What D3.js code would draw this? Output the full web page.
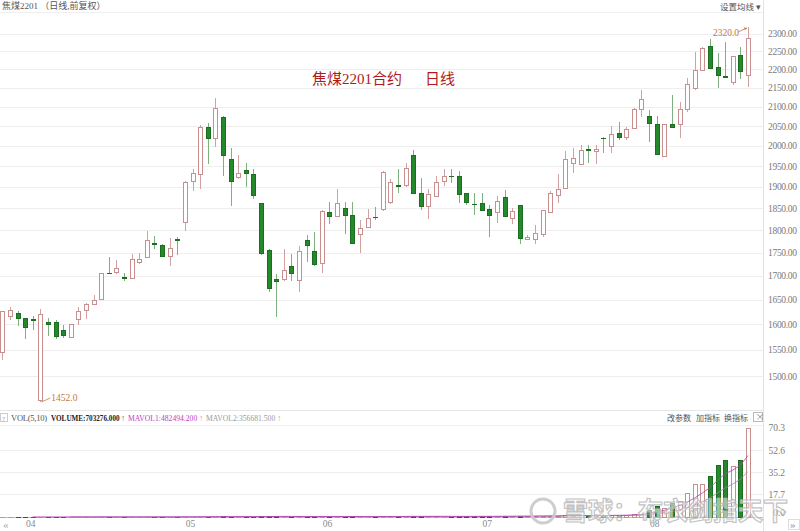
<!DOCTYPE html>
<html><head><meta charset="utf-8">
<script src="https://cdn.jsdelivr.net/npm/d3@7"></script>
<style>body{margin:0;background:#fff;overflow:hidden}svg{display:block}</style>
</head><body>
<svg id="c" width="800" height="531"></svg>
<script>
// ---------------- data ----------------
const dates = [
"2021-03-26","2021-03-29","2021-03-30","2021-03-31",
"2021-04-01","2021-04-02","2021-04-06","2021-04-07","2021-04-08","2021-04-09","2021-04-12","2021-04-13","2021-04-14","2021-04-15","2021-04-16","2021-04-19","2021-04-20","2021-04-21","2021-04-22","2021-04-23","2021-04-26","2021-04-27","2021-04-28","2021-04-29","2021-04-30",
"2021-05-06","2021-05-07","2021-05-10","2021-05-11","2021-05-12","2021-05-13","2021-05-14","2021-05-17","2021-05-18","2021-05-19","2021-05-20","2021-05-21","2021-05-24","2021-05-25","2021-05-26","2021-05-27","2021-05-28","2021-05-31",
"2021-06-01","2021-06-02","2021-06-03","2021-06-04","2021-06-07","2021-06-08","2021-06-09","2021-06-10","2021-06-11","2021-06-15","2021-06-16","2021-06-17","2021-06-18","2021-06-21","2021-06-22","2021-06-23","2021-06-24","2021-06-25","2021-06-28","2021-06-29","2021-06-30",
"2021-07-01","2021-07-02","2021-07-05","2021-07-06","2021-07-07","2021-07-08","2021-07-09","2021-07-12","2021-07-13","2021-07-14","2021-07-15","2021-07-16","2021-07-19","2021-07-20","2021-07-21","2021-07-22","2021-07-23","2021-07-26","2021-07-27","2021-07-28","2021-07-29","2021-07-30",
"2021-08-02","2021-08-03","2021-08-04","2021-08-05","2021-08-06","2021-08-09","2021-08-10","2021-08-11","2021-08-12","2021-08-13","2021-08-16","2021-08-17","2021-08-18"];
const opens = [1546,1616,1622,1612,1610,1456,1604,1604,1589,1575,1611,1629,1641,1651,1707,1709,1698,1695,1729,1740,1772,1766,1743,1779,1818,1915,1931,2048,2019,2073,1967,1924,1940,1930,1861,1756,1693,1693,1721,1691,1777,1754,1727,1840,1831,1851,1834,1791,1806,1830,1848,1865,1905,1904,1977,1885,1855,1878,1915,1927,1926,1885,1860,1863,1847,1840,1875,1827,1857,1780,1780,1791,1840,1881,1896,1958,1954,1991,1988,2020,2000,2031,2023,2044,2093,2076,2054,1975,2054,2054,2093,2149,2199,2266,2208,2181,2167,2240,2185];
const highs = [1627,1636,1626,1613,1616,1631,1613,1609,1599,1601,1636,1643,1659,1707,1741,1733,1705,1747,1749,1799,1787,1768,1783,1785,1913,1943,2053,2057,2122,2075,1994,1977,1957,1942,1863,1757,1704,1757,1747,1765,1789,1795,1845,1864,1894,1865,1865,1823,1848,1853,1937,1918,1942,1958,1990,1920,1894,1926,1942,1942,1938,1886,1886,1886,1857,1878,1893,1850,1858,1789,1812,1846,1889,1931,1988,1994,2002,2002,2002,2021,2050,2061,2048,2097,2143,2092,2077,2056,2131,2113,2176,2248,2262,2285,2245,2276,2238,2262,2320];
const lows = [1530,1609,1596,1571,1588,1452,1576,1571,1573,1574,1599,1611,1639,1649,1705,1704,1688,1694,1725,1739,1757,1741,1722,1745,1798,1889,1895,1955,1996,1926,1856,1918,1900,1871,1745,1667,1614,1690,1688,1667,1730,1721,1705,1813,1830,1791,1771,1749,1804,1823,1844,1860,1886,1899,1885,1846,1825,1877,1902,1908,1861,1857,1834,1845,1784,1817,1831,1813,1770,1778,1769,1785,1839,1861,1895,1932,1953,1958,1954,1981,1981,2015,2015,2042,2073,2010,1976,1972,2044,2019,2087,2144,2197,2204,2150,2178,2158,2173,2152];
const closes = [1626,1629,1612,1595,1608,1620,1601,1576,1579,1600,1627,1641,1649,1705,1706,1717,1696,1736,1736,1778,1770,1743,1760,1777,1912,1933,2047,2019,2097,1977,1914,1932,1932,1881,1750,1675,1688,1712,1707,1753,1767,1725,1844,1832,1861,1835,1772,1805,1827,1829,1936,1912,1903,1946,1886,1856,1882,1912,1926,1926,1882,1865,1859,1846,1834,1867,1832,1844,1782,1784,1793,1846,1885,1895,1966,1969,1990,1989,1991,2019,2030,2021,2042,2093,2120,2057,1979,2055,2047,2093,2160,2199,2261,2205,2185,2180,2238,2195,2287];
const volumes = [800,600,500,700,400,1500,900,700,600,800,1200,900,700,1800,900,600,700,1100,800,1500,900,1000,1200,900,
2500,1800,3500,2800,3200,4100,3600,2500,2000,2600,5200,6100,4800,3900,3000,4200,3100,3600,5000,
3200,3800,3500,4200,3900,3100,2800,5500,4600,3800,4500,6200,5400,4800,4100,3900,3500,5200,4600,4400,5100,
5600,5200,7100,5800,9200,6500,7400,9800,11000,9500,14500,10200,12500,9800,10100,13600,16500,15200,14100,22500,26000,55000,
90000,70000,110000,127344,186000,258000,259000,324000,412495,448000,401200,447500,703276];
const priceTicks = [1500,1550,1600,1650,1700,1750,1800,1850,1900,1950,2000,2050,2100,2150,2200,2250,2300];
const volTicks = [0,177000,352000,526000,703276];
const volTickLabels = ["0.0","17.7","35.2","52.6","70.3"];
const monthStarts = ["2021-04-01","2021-05-06","2021-06-01","2021-07-01","2021-08-02"];
const monthLabels = ["04","05","06","07","08"];
const chartTitle = "焦煤2201 （日线,前复权）";
const centerTitle = ["焦煤2201合约", "日线"];
const volHeader = [
  {label:"VOLUME:703276.000", x:51, w:74, color:"#222", arrow:"#555", bold:true},
  {label:"MAVOL1:482494.200", x:128, w:75, color:"#c040c0", arrow:"#e080c0", bold:false},
  {label:"MAVOL2:356681.500", x:206, w:75, color:"#999", arrow:"#aaa", bold:false}];

// ---------------- drawing ----------------
const svg = d3.select("#c");
const plotRight = 763;
const UP = "#c98f8f", UPW = "#d2a2a2", DN_FILL = "#24892a", DN_STROKE = "#1b6e20", DN_W = "#7fb07f";
const LABEL_FONT = "'Liberation Serif','DejaVu Serif',serif";
const CJK = "'Noto Sans CJK SC','Noto Sans',sans-serif";

const data = dates.map((d,i)=>({d, o:opens[i], h:highs[i], l:lows[i], c:closes[i], v:volumes[i]}));
const x = d3.scaleBand().domain(dates).range([-1.5, 751.8]).padding(0);
const cx = d => x(d) + x.bandwidth()/2;
const bw = 5;
const y = d3.scaleLog().domain([1500, 2300]).range([376, 33.9]);
const yv = d3.scaleLinear().domain([0, 703276]).range([517, 427.5]);

// frame lines
svg.append("line").attr("x1",plotRight+0.5).attr("x2",plotRight+0.5).attr("y1",0).attr("y2",531).attr("stroke","#e2e2e2");
svg.append("line").attr("x1",0).attr("x2",plotRight).attr("y1",12.5).attr("y2",12.5).attr("stroke","#f0f0f0");
svg.append("line").attr("x1",0).attr("x2",plotRight).attr("y1",410.5).attr("y2",410.5).attr("stroke","#e6e6e6");
svg.append("line").attr("x1",0).attr("x2",plotRight).attr("y1",425.5).attr("y2",425.5).attr("stroke","#f0f0f0");

// price gridlines + right axis
svg.append("g").selectAll("line").data(priceTicks).join("line")
  .attr("x1",0).attr("x2",plotRight).attr("y1",d=>Math.round(y(d))+0.5).attr("y2",d=>Math.round(y(d))+0.5)
  .attr("stroke","#eeeeee");
const yAxis = d3.axisRight(y).tickValues(priceTicks).tickFormat(d3.format(".2f")).tickSize(0).tickPadding(0);
svg.append("g").attr("transform",`translate(${plotRight+5},0)`).call(yAxis)
  .call(g=>g.select(".domain").remove())
  .call(g=>g.selectAll("text").attr("fill","#7a7a7a").attr("font-family",LABEL_FONT).attr("font-size",9.5)
     .attr("textLength",29).attr("lengthAdjust","spacing"));

// volume gridlines + axis
svg.append("g").selectAll("line").data(volTicks.slice(1,4)).join("line")
  .attr("x1",0).attr("x2",plotRight).attr("y1",d=>Math.round(yv(d))+0.5).attr("y2",d=>Math.round(yv(d))+0.5).attr("stroke","#eeeeee");
svg.append("line").attr("x1",0).attr("x2",plotRight).attr("y1",517.5).attr("y2",517.5).attr("stroke","#bdbdbd");
const vAxis = d3.axisLeft(yv).tickValues(volTicks).tickFormat((d,i)=>volTickLabels[i]).tickSize(0).tickPadding(0);
svg.append("g").attr("transform",`translate(785,0)`).call(vAxis)
  .call(g=>g.select(".domain").remove())
  .call(g=>g.selectAll("text").attr("fill","#7a7a7a").attr("font-family",LABEL_FONT).attr("font-size",9.5))
  .call(g=>g.selectAll(".tick").filter(d=>d===0).attr("transform",`translate(0,${yv(0)-4})`));

// month labels
const xAxis = d3.axisBottom(x).tickValues(monthStarts).tickFormat((d,i)=>monthLabels[i]).tickSize(0).tickPadding(0);
svg.append("g").attr("transform","translate(-2,520)").call(xAxis)
  .call(g=>g.select(".domain").remove())
  .call(g=>g.selectAll("text").attr("fill","#8a8a8a").attr("font-family",LABEL_FONT).attr("font-size",9.5));
svg.append("text").attr("x",3).attr("y",528).text("«").attr("fill","#aaa").attr("font-size",11).attr("font-family",LABEL_FONT);
svg.append("rect").attr("x",788.5).attr("y",519.5).attr("width",11).attr("height",10).attr("fill","none").attr("stroke","#ddd");
svg.append("text").attr("x",790).attr("y",528).text("»").attr("fill","#999").attr("font-size",11).attr("font-family",LABEL_FONT);

// candles
const cg = svg.append("g").attr("shape-rendering","crispEdges");
const up = d => d.c >= d.o;
cg.selectAll("line.w").data(data).join("line")
  .attr("x1",d=>Math.round(cx(d.d))+0.5).attr("x2",d=>Math.round(cx(d.d))+0.5)
  .attr("y1",d=>y(d.h)).attr("y2",d=>y(d.l))
  .attr("stroke",d=>up(d)?UPW:DN_W);
cg.selectAll("rect.b").data(data).join("rect")
  .attr("x",d=>Math.round(cx(d.d))-2+0.5)
  .attr("y",d=>Math.round(y(Math.max(d.o,d.c)))+0.5)
  .attr("width",bw-1)
  .attr("height",d=>Math.max(0.01, Math.round(y(Math.min(d.o,d.c))) - Math.round(y(Math.max(d.o,d.c)))))
  .attr("fill",d=>up(d)?"#fff":DN_FILL)
  .attr("stroke",d=>up(d)?UP:DN_STROKE);

// max / min annotations
const maxD = data.reduce((a,b)=>b.h>a.h?b:a);
const minD = data.reduce((a,b)=>b.l<a.l?b:a);
const ann = svg.append("g").attr("fill","#c8773a").attr("font-family",LABEL_FONT).attr("font-size",9.5);
const mx = cx(maxD.d), my = y(maxD.h);
ann.append("text").attr("x",mx-35).attr("y",my+9).attr("text-anchor","start").text(maxD.h.toFixed(1));
ann.append("line").attr("x1",mx-10).attr("y1",my+5).attr("x2",mx-1).attr("y2",my+1).attr("stroke","#c8773a").attr("stroke-width",0.8);
ann.append("path").attr("d",`M${mx-1},${my+1}l-3,-0.5l1,2.5z`).attr("fill","#c8773a");
const nx = cx(minD.d), ny = y(minD.l);
ann.append("text").attr("x",nx+11).attr("y",ny-1).text(minD.l.toFixed(1));
ann.append("line").attr("x1",nx+10).attr("y1",ny-4).attr("x2",nx+1).attr("y2",ny).attr("stroke","#c8773a").attr("stroke-width",0.8);

// center title
svg.append("text").attr("x",312).attr("y",84).text(centerTitle[0]).attr("fill","#b01a1a").attr("font-size",15).attr("font-family","'Liberation Serif','Noto Sans CJK SC',serif");
svg.append("text").attr("x",425).attr("y",84).text(centerTitle[1]).attr("fill","#b01a1a").attr("font-size",15).attr("font-family","'Noto Sans CJK SC',serif");

// header
svg.append("text").attr("x",2).attr("y",9).text(chartTitle).attr("fill","#555").attr("font-size",9).attr("font-family","'Liberation Serif','Noto Sans CJK SC',serif");
svg.append("text").attr("x",720).attr("y",9.5).text("设置均线 ▾").attr("fill","#555").attr("font-size",8.5).attr("font-family",CJK);

// volume bars
const vg = svg.append("g").attr("shape-rendering","crispEdges");
vg.selectAll("rect").data(data).join("rect")
  .attr("x",d=>Math.round(cx(d.d))-2+0.5)
  .attr("y",d=>Math.round(yv(d.v))+0.5)
  .attr("width",bw-1)
  .attr("height",d=>Math.max(0.01, 517-Math.round(yv(d.v))))
  .attr("fill",d=>up(d)?"#fff":DN_FILL)
  .attr("stroke",d=>up(d)?UP:DN_STROKE);

// volume moving averages
function ma(n){ return data.map((d,i)=> i<n-1?null:{d:d.d, v:d3.mean(data.slice(i-n+1,i+1),e=>e.v)}).filter(Boolean); }
const line = d3.line().x(p=>cx(p.d)).y(p=>yv(p.v));
svg.append("path").datum(ma(10)).attr("d",line).attr("fill","none").attr("stroke","#a77fb0").attr("stroke-width",0.8);
svg.append("path").datum(ma(5)).attr("d",line).attr("fill","none").attr("stroke","#b53cb5").attr("stroke-width",0.8);

// volume header
const vh = svg.append("g").attr("font-family",LABEL_FONT).attr("font-size",8.5);
vh.append("rect").attr("x",0.5).attr("y",413.5).attr("width",7).attr("height",8).attr("fill","none").attr("stroke","#ccc");
vh.append("text").attr("x",2).attr("y",420.5).text("?").attr("fill","#999").attr("font-size",7);
vh.append("text").attr("x",11).attr("y",421).text("VOL(5,10)").attr("fill","#555").attr("textLength",36);
volHeader.forEach(h=>{
  const t = vh.append("text").attr("transform",`translate(${h.x},421)`);
  t.append("tspan").text(h.label).attr("fill",h.color).attr("font-weight",h.bold?"bold":null);
  t.append("tspan").text(" ↑").attr("fill",h.arrow);
  const natural = t.node().getComputedTextLength();
  t.attr("transform",`translate(${h.x},421) scale(${h.w/natural},1)`);
});
const tools = svg.append("g").attr("font-family",CJK).attr("font-size",8).attr("fill","#555");
tools.append("text").attr("x",667).attr("y",421).text("改参数");
tools.append("text").attr("x",696).attr("y",421).text("加指标");
tools.append("text").attr("x",724).attr("y",421).text("换指标");
tools.append("rect").attr("x",753.5).attr("y",412.5).attr("width",9).attr("height",9).attr("fill","#fff").attr("stroke","#bbb");
tools.append("text").attr("x",755.5).attr("y",420).text("×").attr("fill","#888").attr("font-size",9);

// watermark
const wm = svg.append("g").attr("opacity",0.9);
wm.append("circle").attr("cx",543).attr("cy",511).attr("r",12).attr("fill","none").attr("stroke","#c9c9c9").attr("stroke-width",3);
wm.append("text").attr("x",563).attr("y",520).text("雪球：布衣剑指天下")
  .attr("font-family",CJK).attr("font-size",25).attr("font-weight","bold")
  .attr("fill","#ffffff").attr("fill-opacity",0.6).attr("stroke","#bdbdbd").attr("stroke-width",1.2);
</script>
</body></html>
